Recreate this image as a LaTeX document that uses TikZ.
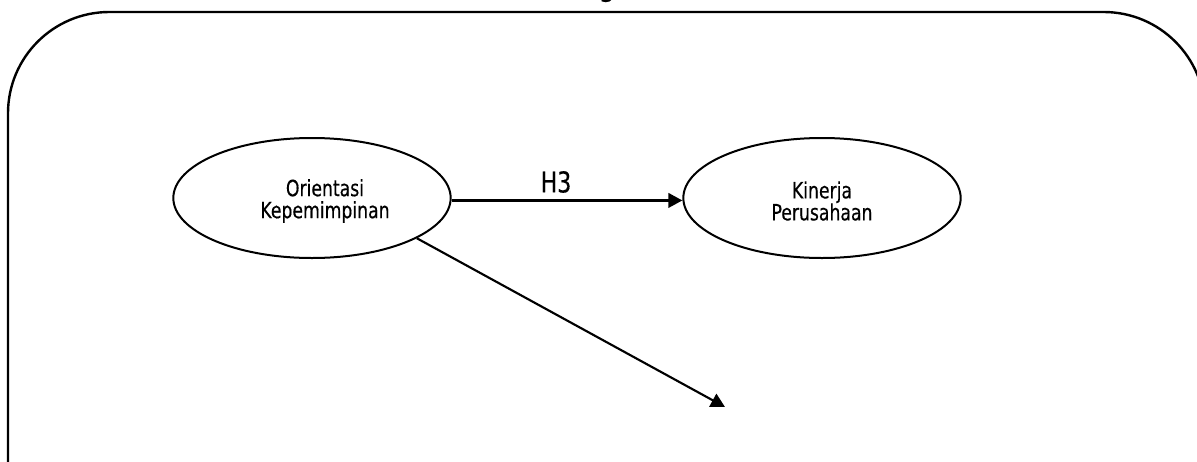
\documentclass[tikz,border=0pt]{standalone}
\usepackage{fontspec}
\setmainfont{DejaVu Sans}[FakeStretch=0.77,FakeBold=0.35]
\usetikzlibrary{shapes.geometric,arrows.meta}
\begin{document}
\begin{tikzpicture}[x=0.75pt,y=-0.75pt,
  latent/.style={ellipse,draw,line width=1.5pt,minimum width=208pt,minimum height=90pt,inner sep=0pt},
  lbl/.style={align=center,font=\fontsize{16.8}{16.5}\selectfont},
  patharrow/.style={line width=1.6pt,-{Triangle[length=10.5pt,width=11pt]}},
  frame/.style={line width=1.8pt,rounded corners=76pt}]
\useasboundingbox (0,0) rectangle (1197,461);
% outer rounded frame, partly outside the page
\draw[frame] (8,12) rectangle (1205,700);
% title (only its lowest part falls on the page)
\node[font=\bfseries\fontsize{21}{22}\selectfont,anchor=base,inner sep=0pt] (ttl) at (607,-4) {g};
% constructs
\node[latent] (ok) at (312,198) {};
\node[latent] (kp) at (822,198) {};
\node[lbl] (okt) at (325,201) {Orientasi\\Kepemimpinan};
\node[lbl] (kpt) at (822,201) {Kinerja\\Perusahaan};
% paths
\coordinate (tip) at (725,407);
\draw[patharrow] (ok.-1.6) -- (ok.-1.6 -| kp.west);
\node[font=\fontsize{21.5}{22}\selectfont] (h3) at (556,182) {H3};
\draw[patharrow] (ok.-21.4) -- (tip);
\end{tikzpicture}
\end{document}
